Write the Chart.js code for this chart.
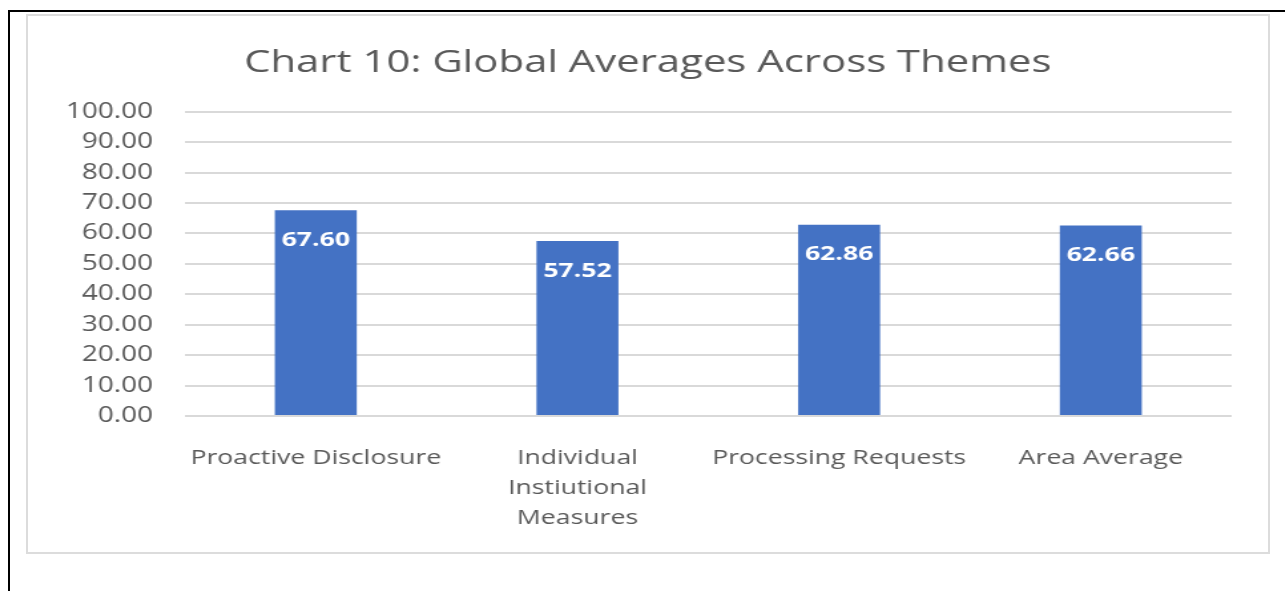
<!DOCTYPE html>
<html lang="en">
<head>
    <meta charset="UTF-8">
    <title>Chart 10</title>
    <script src="https://cdn.jsdelivr.net/npm/chart.js"></script>
    <style>
        body { margin: 0; background: #fff; width: 1285px; height: 591px; overflow: hidden; position: relative; }
        #frame { position: absolute; left: 8px; top: 10px; width: 1277px; height: 581px; border-top: 2px solid #000; border-left: 2px solid #000; }
        #box { position: absolute; left: 26px; top: 14px; width: 1240px; height: 536px; border: 2px solid #dcdcdc; background: #fff; overflow: hidden; }
        /* the original picture is stretched sideways, so stretch the canvas the same way */
        #box canvas { display: block; transform: scaleX(1.33); transform-origin: 0 0; }
    </style>
</head>
<body>
    <div id="frame"></div>
    <div id="box">
        <canvas id="myChart" width="932" height="536"></canvas>
    </div>
    <script>
        // 資料
        const categories = ['Proactive Disclosure', ['Individual', 'Instiutional', 'Measures'], 'Processing Requests', 'Area Average'];
        const values = [67.60, 57.52, 62.86, 62.66];
        const yMin = 0;
        const yMax = 100;
        const yStep = 10;

        const textColor = '#595959';
        const fontName = '"Open Sans", "Noto Sans", sans-serif';

        // 在柱子裡面畫數值
        const barLabels = {
            id: 'barLabels',
            afterDatasetsDraw(chart) {
                const ctx = chart.ctx;
                const meta = chart.getDatasetMeta(0);
                ctx.save();
                ctx.fillStyle = '#ffffff';
                ctx.font = 'bold 20px ' + fontName;
                ctx.textAlign = 'center';
                ctx.textBaseline = 'middle';
                meta.data.forEach(function (bar, i) {
                    ctx.fillText(values[i].toFixed(2), bar.x, bar.y + 30);
                });
                ctx.restore();
            }
        };

        const ctx = document.getElementById('myChart');
        const mychart = new Chart(ctx, {
            type: 'bar',
            data: {
                labels: categories,
                datasets: [{
                    label: 'Average',
                    data: values,
                    backgroundColor: '#4472C4',
                    borderWidth: 0,
                    barPercentage: 0.313,
                    categoryPercentage: 1
                }]
            },
            options: {
                responsive: false,
                animation: false,
                layout: { padding: { left: 27, right: 27, top: 0, bottom: 0 } },
                plugins: {
                    legend: { display: false },
                    tooltip: { enabled: false },
                    title: {
                        display: true,
                        text: 'Chart 10: Global Averages Across Themes',
                        color: textColor,
                        font: { family: fontName, size: 31.5, weight: 'normal' },
                        padding: { top: 28, bottom: 30 }
                    }
                },
                scales: {
                    y: {
                        min: yMin,
                        max: yMax,
                        ticks: {
                            stepSize: yStep,
                            color: textColor,
                            font: { family: fontName, size: 21 },
                            padding: 24,
                            callback: function (v) { return v.toFixed(2); }
                        },
                        grid: { color: '#d9d9d9', lineWidth: 2, drawTicks: false },
                        border: { display: false },
                        afterFit: function (scale) { scale.width = 91; }
                    },
                    x: {
                        ticks: {
                            color: textColor,
                            font: { family: fontName, size: 20, lineHeight: 1.5 },
                            padding: 27,
                            maxRotation: 0,
                            autoSkip: false
                        },
                        grid: { display: false, drawTicks: false },
                        border: { display: false },
                        afterFit: function (scale) { scale.height = 136; }
                    }
                }
            },
            plugins: [barLabels]
        });
    </script>
</body>
</html>
